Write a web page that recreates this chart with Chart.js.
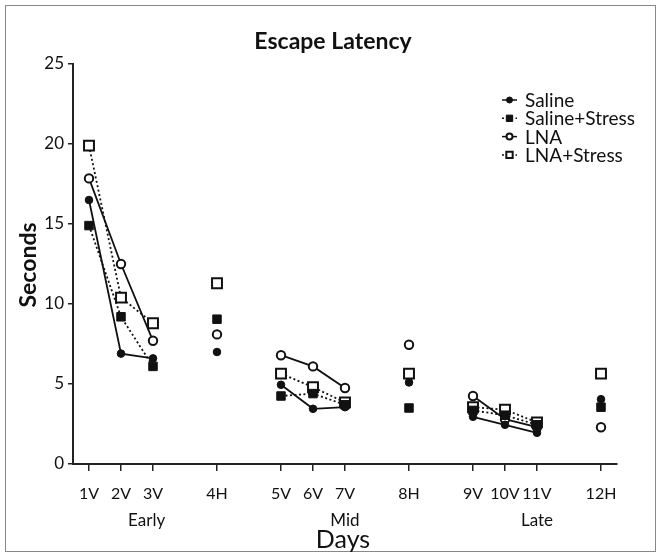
<!DOCTYPE html>
<html>
<head>
<meta charset="utf-8">
<script src="https://cdn.jsdelivr.net/npm/chart.js@4.4.0/dist/chart.umd.min.js"></script>
<style>
  html, body { margin: 0; padding: 0; background: #fff; }
  #wrap { width: 661px; height: 557px; }
</style>
</head>
<body>
<div id="wrap"><canvas id="chart"></canvas></div>
<script>
// Days on the x axis and where they sit (gaps break the lines)
const days = ['1V', '2V', '3V', '4H', '5V', '6V', '7V', '8H', '9V', '10V', '11V', '12H'];
const dayPos = [1, 2, 3, 5, 7, 8, 9, 11, 13, 14, 15, 17];

// Escape latency in seconds
const saline       = [16.5, 6.9, 6.6, 7.0, 4.95, 3.45, 3.55, 5.1, 2.95, 2.45, 1.95, 4.05];
const salineStress = [14.9, 9.2, 6.1, 9.05, 4.25, 4.4, 3.7, 3.5, 3.35, 3.05, 2.45, 3.55];
const lna          = [17.85, 12.5, 7.7, 8.1, 6.8, 6.1, 4.75, 7.45, 4.25, 2.8, 2.3, 2.3];
const lnaStress    = [19.9, 10.4, 8.8, 11.3, 5.65, 4.8, 3.85, 5.65, 3.55, 3.4, 2.6, 5.65];

const phases = ['Early', 'Mid', 'Late'];
const phasePos = [2.8, 9, 15];

const FONT = 'Lato, "Noto Sans", sans-serif';
const INK = '#111';

// turn a value list into points, with a null wherever days are not adjacent
function series(vals) {
    const pts = [];
    vals.forEach((v, i) => {
        pts.push({ x: dayPos[i], y: v });
        if (i < vals.length - 1 && dayPos[i + 1] - dayPos[i] > 1) {
            pts.push({ x: dayPos[i] + 1, y: null });
        }
    });
    return pts;
}

function drawMarker(ctx, ds, r, x, y) {
    ctx.save();
    ctx.beginPath();
    if (ds.pointStyle === 'rect') {
        const s = Math.SQRT1_2 * r;
        ctx.rect(x - s, y - s, 2 * s, 2 * s);
    } else {
        ctx.arc(x, y, r, 0, Math.PI * 2);
    }
    ctx.fillStyle = ds.pointBackgroundColor;
    ctx.fill();
    ctx.lineWidth = ds.pointBorderWidth;
    ctx.strokeStyle = ds.pointBorderColor;
    ctx.stroke();
    ctx.restore();
}

const extras = {
    id: 'extras',
    afterDraw(chart) {
        const ctx = chart.ctx;
        const xs = chart.scales.x;
        ctx.save();

        // frame around the figure
        ctx.strokeStyle = '#888';
        ctx.lineWidth = 1;
        ctx.strokeRect(5.5, 5.5, 650, 546);

        ctx.fillStyle = INK;
        ctx.textAlign = 'center';
        ctx.textBaseline = 'middle';

        ctx.font = 'bold 23px ' + FONT;
        ctx.fillText('Escape Latency', 333, 42);

        ctx.font = '25px ' + FONT;
        ctx.fillText('Days', 343, 540);

        ctx.font = '17px ' + FONT;
        phases.forEach((p, i) => {
            ctx.fillText(p, xs.getPixelForValue(phasePos[i]), 521);
        });

        ctx.save();
        ctx.translate(29, 265);
        ctx.rotate(-Math.PI / 2);
        ctx.font = 'bold 23px ' + FONT;
        ctx.fillText('Seconds', 0, 0);
        ctx.restore();

        // legend: short line sample with the marker on it
        ctx.font = '19px ' + FONT;
        ctx.textAlign = 'left';
        chart.data.datasets.forEach((ds, i) => {
            const y = 100 + i * 18.3;
            ctx.save();
            ctx.strokeStyle = INK;
            ctx.lineWidth = 1.5;
            ctx.setLineDash(ds.borderDash);
            ctx.beginPath();
            ctx.moveTo(502, y);
            ctx.lineTo(517, y);
            ctx.stroke();
            ctx.restore();
            drawMarker(ctx, ds, ds.pointStyle === 'rect' ? 4.5 : 3, 509.5, y);
            ctx.fillStyle = INK;
            ctx.fillText(ds.label, 525, y + 1);
        });
        ctx.restore();
    }
};

function makeSet(label, vals, style, filled, dashed, radius) {
    return {
        label: label,
        data: series(vals),
        borderColor: INK,
        borderWidth: 1.8,
        borderDash: dashed ? [2, 2.5] : [],
        pointStyle: style,
        pointRadius: radius,
        pointHoverRadius: radius,
        pointBackgroundColor: filled ? INK : '#fff',
        pointBorderColor: INK,
        pointBorderWidth: filled ? 1 : 2,
        spanGaps: false,
        tension: 0
    };
}

new Chart(document.getElementById('chart'), {
    type: 'line',
    data: {
        datasets: [
            makeSet('Saline', saline, 'circle', true, false, 3.8),
            makeSet('Saline+Stress', salineStress, 'rect', true, true, 6),
            makeSet('LNA', lna, 'circle', false, false, 4.2),
            makeSet('LNA+Stress', lnaStress, 'rect', false, true, 7)
        ]
    },
    options: {
        responsive: true,
        maintainAspectRatio: false,
        animation: false,
        layout: { padding: { top: 64, right: 44, left: 0, bottom: 0 } },
        plugins: {
            legend: { display: false },
            title: { display: false },
            tooltip: { enabled: false }
        },
        scales: {
            x: {
                type: 'linear',
                min: 0.5,
                max: 17.5,
                afterBuildTicks: (scale) => {
                    scale.ticks = dayPos.map(v => ({ value: v }));
                },
                afterFit: (scale) => { scale.height = 93; },
                ticks: {
                    autoSkip: false,
                    maxRotation: 0,
                    padding: 13,
                    color: INK,
                    font: { family: FONT, size: 16 },
                    callback: (v) => days[dayPos.indexOf(v)]
                },
                grid: { drawOnChartArea: false, drawTicks: true, tickLength: 7, color: '#222', lineWidth: 1.5 },
                border: { color: '#222', width: 2 }
            },
            y: {
                min: 0,
                max: 25,
                afterFit: (scale) => { scale.width = 73; },
                ticks: {
                    stepSize: 5,
                    padding: 4,
                    color: INK,
                    font: { family: FONT, size: 17 }
                },
                grid: { drawOnChartArea: false, drawTicks: true, tickLength: 5, color: '#222', lineWidth: 1.5 },
                border: { color: '#222', width: 2 }
            }
        }
    },
    plugins: [extras]
});
</script>
</body>
</html>
